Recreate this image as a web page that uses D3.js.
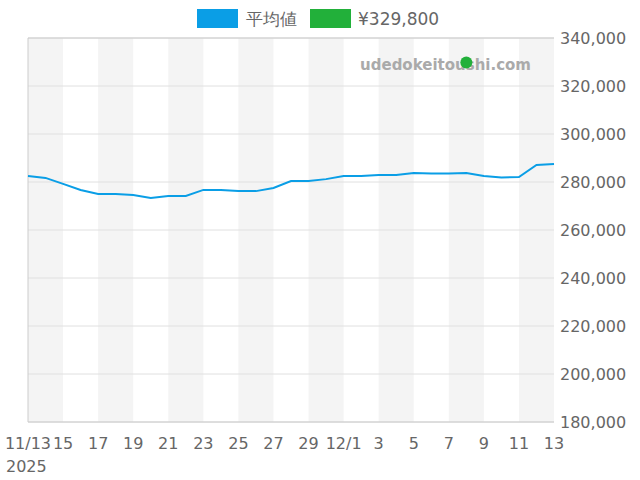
<!DOCTYPE html><html><head><meta charset="utf-8"><script src="https://cdn.jsdelivr.net/npm/d3@7"></script>
<style>body{margin:0;background:#fff}text{font-family:"DejaVu Sans",sans-serif}</style></head><body><svg id="c" width="640" height="480"></svg>
<script>
const dates=["2025-11-13","2025-11-14","2025-11-15","2025-11-16","2025-11-17","2025-11-18","2025-11-19","2025-11-20","2025-11-21","2025-11-22","2025-11-23","2025-11-24","2025-11-25","2025-11-26","2025-11-27","2025-11-28","2025-11-29","2025-11-30","2025-12-01","2025-12-02","2025-12-03","2025-12-04","2025-12-05","2025-12-06","2025-12-07","2025-12-08","2025-12-09","2025-12-10","2025-12-11","2025-12-12","2025-12-13"];
const avg=[282500,281700,279200,276700,275000,275000,274600,273300,274200,274200,276700,276700,276200,276200,277500,280400,280400,281200,282500,282500,282900,282900,283700,283500,283500,283700,282500,281900,282100,287100,287500];
const pointDate="2025-12-08", pointValue=329800;
const yTicks=[180000,200000,220000,240000,260000,280000,300000,320000,340000];
const xTickLabels=["11/13","15","17","19","21","23","25","27","29","12/1","3","5","7","9","11","13"];
const parse=d3.timeParse("%Y-%m-%d");
const svg=d3.select("#c");
const L=28,R=554,T=38,B=422;
const x=d3.scaleTime().domain([parse(dates[0]),parse(dates[dates.length-1])]).range([L,R]);
const y=d3.scaleLinear().domain([180000,340000]).range([B,T]);
for(let i=0;i<dates.length-1;i+=4){
  const a=parse(dates[i]),b=parse(dates[Math.min(i+2,dates.length-1)]);
  svg.append("rect").attr("x",x(a)).attr("y",T).attr("width",x(b)-x(a)).attr("height",B-T).attr("fill","#f4f4f4");
}
yTicks.forEach(v=>{svg.append("line").attr("x1",L).attr("x2",R).attr("y1",y(v)).attr("y2",y(v)).attr("stroke","#e0e0e0");
 svg.append("text").attr("x",R+6).attr("y",y(v)+6).attr("font-size",16).attr("fill","#666").text(d3.format(",")(v));});
svg.append("line").attr("x1",L).attr("x2",L).attr("y1",T).attr("y2",B).attr("stroke","#ccc");
svg.append("line").attr("x1",L).attr("x2",R).attr("y1",B).attr("y2",B).attr("stroke","#ccc");
svg.append("line").attr("x1",L).attr("x2",R).attr("y1",T).attr("y2",T).attr("stroke","#ccc");
const tickDates=dates.filter((d,i)=>i%2===0);
tickDates.forEach((d,i)=>{svg.append("text").attr("x",x(parse(d))).attr("y",449).attr("text-anchor","middle").attr("font-size",16).attr("fill","#666").text(xTickLabels[i]);});
svg.append("text").attr("x",6).attr("y",472).attr("font-size",16).attr("fill","#666").text("2025");
svg.append("text").attr("x",531).attr("y",70).attr("text-anchor","end").attr("font-size",15).attr("font-weight","bold").attr("fill","#aaa").text("udedokeitoushi.com");
svg.append("path").datum(avg).attr("fill","none").attr("stroke","#0a9ee6").attr("stroke-width",2)
 .attr("d",d3.line().x((d,i)=>x(parse(dates[i]))).y(d=>y(d)));
svg.append("circle").attr("cx",x(parse(pointDate))).attr("cy",y(pointValue)).attr("r",6).attr("fill","#22b03a");
svg.append("rect").attr("x",197).attr("y",9).attr("width",41).attr("height",19).attr("fill","#0a9ee6");
svg.append("text").attr("x",246).attr("y",25).attr("font-size",17).attr("fill","#666").text("平均値");
svg.append("rect").attr("x",310).attr("y",9).attr("width",41).attr("height",19).attr("fill","#22b03a");
svg.append("text").attr("x",358).attr("y",25).attr("font-size",17).attr("fill","#666").text("¥329,800");
</script></body></html>
